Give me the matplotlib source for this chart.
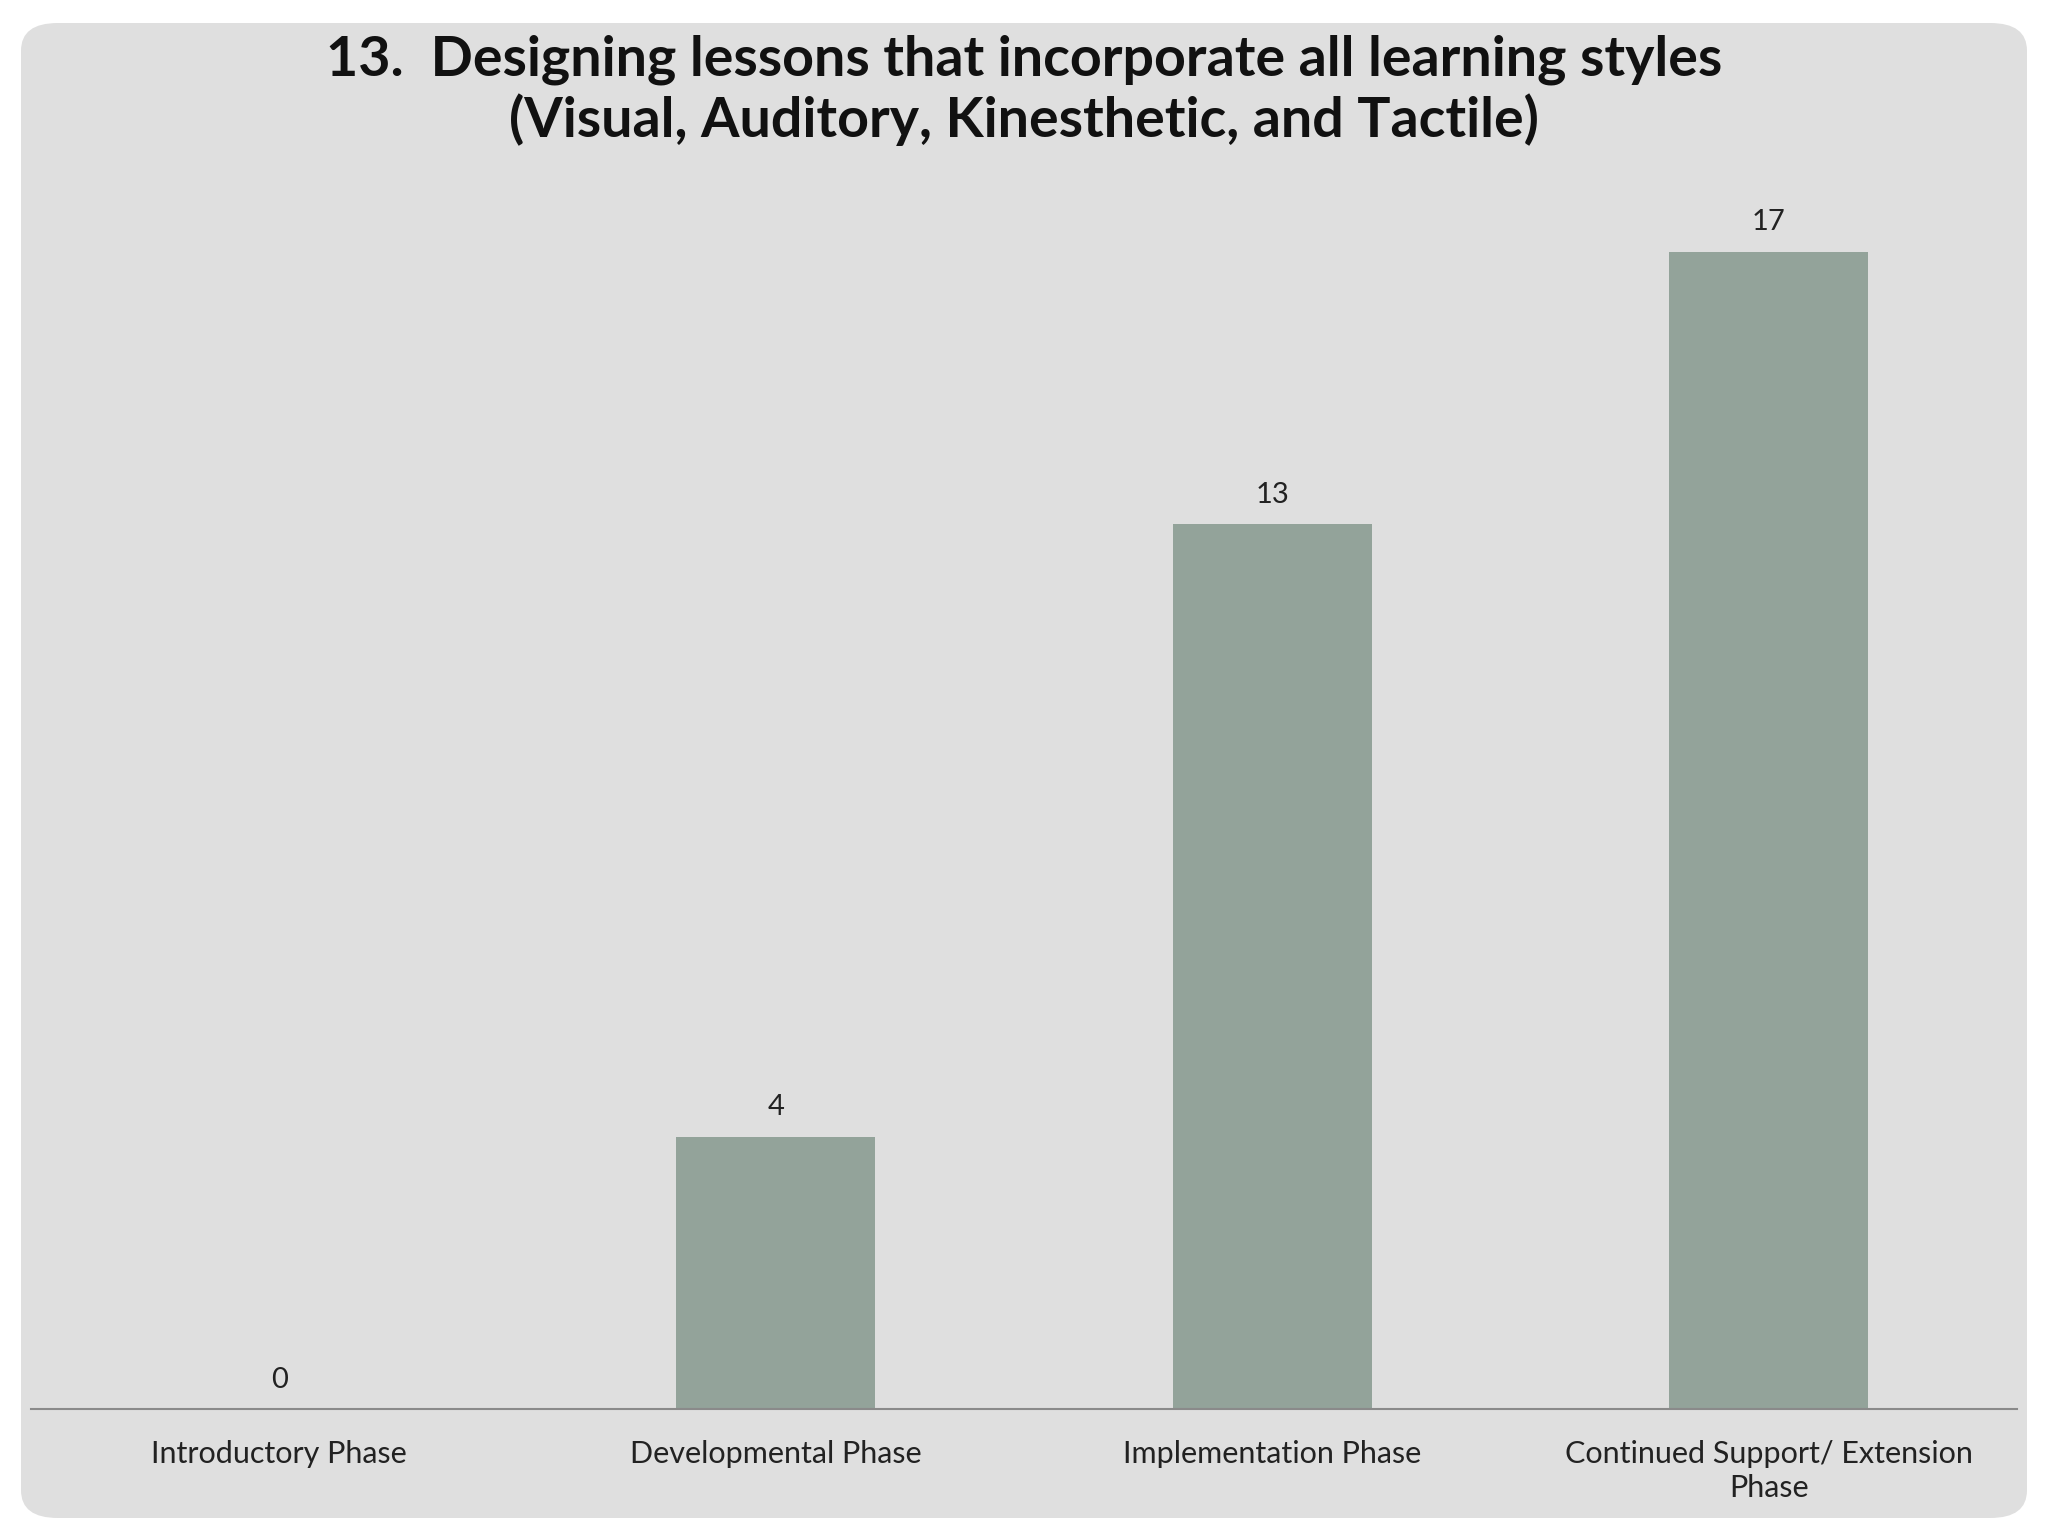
import matplotlib
matplotlib.use("Agg")
import matplotlib.pyplot as plt
from matplotlib.patches import FancyBboxPatch

# chart data
phases = ["Introductory Phase", "Developmental Phase", "Implementation Phase",
          "Continued Support/ Extension\nPhase"]
counts = [0, 4, 13, 17]
title = "13.  Designing lessons that incorporate all learning styles\n(Visual, Auditory, Kinesthetic, and Tactile)"

plt.rcParams['font.family'] = ['Lato', 'DejaVu Sans']

fig = plt.figure(figsize=(20.48, 15.36), dpi=100)
fig.patch.set_facecolor("white")

# rounded grey slide panel
panel = FancyBboxPatch((21/2048, (1536-1518)/1536), (2027-21)/2048, (1518-23)/1536,
                       boxstyle="round,pad=0,rounding_size=0.018",
                       transform=fig.transFigure, facecolor="#dfdfdf",
                       edgecolor="none", zorder=-5)
fig.patches.append(panel)

ax = fig.add_axes([31/2048, (1536-1409)/1536, 1986/2048, (1409-200)/1536])
ax.set_facecolor("none")
ax.set_zorder(2)

x = list(range(len(phases)))
ax.bar(x, counts, width=0.4, color="#93a39a", zorder=2)
for xi, v in zip(x, counts):
    ax.text(xi, v + 0.43, str(v), ha="center", va="center", fontsize=21,
            color="#222222")

ax.set_xlim(-0.5, 3.5)
ax.set_ylim(0, 17.76)
ax.set_xticks(x)
ax.set_xticklabels(phases, fontsize=22, color="#222222", linespacing=1.3)
ax.tick_params(axis="x", length=0, pad=22)
ax.set_yticks([])
for s in ["top", "left", "right"]:
    ax.spines[s].set_visible(False)
ax.spines["bottom"].set_color("#8a8a8a")
ax.spines["bottom"].set_linewidth(1.5)

fig.text(0.5, 1 - 90/1536, title, ha="center", va="center", fontsize=40,
         fontweight="bold", color="#111111", linespacing=1.2, zorder=3)

fig.savefig("out.png", dpi=100)
